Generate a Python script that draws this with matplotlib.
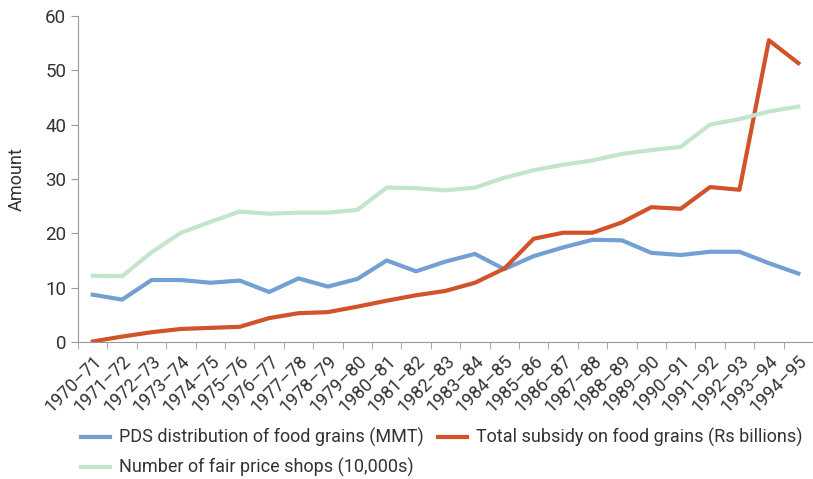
import matplotlib.pyplot as plt
from matplotlib import font_manager

years = ["1970–71", "1971–72", "1972–73", "1973–74", "1974–75", "1975–76", "1976–77",
         "1977–78", "1978–79", "1979–80", "1980–81", "1981–82", "1982–83", "1983–84",
         "1984–85", "1985–86", "1986–87", "1987–88", "1988–89", "1989–90", "1990–91",
         "1991–92", "1992–93", "1993–94", "1994–95"]
pds = [8.7, 7.8, 11.4, 11.4, 10.9, 11.3, 9.2, 11.7, 10.2, 11.6, 15.0, 13.0, 14.8, 16.2,
       13.4, 15.8, 17.4, 18.8, 18.7, 16.4, 16.0, 16.6, 16.6, 14.5, 12.6]
subsidy = [0.1, 1.0, 1.8, 2.4, 2.6, 2.8, 4.4, 5.3, 5.5, 6.5, 7.6, 8.6, 9.4, 10.9,
           13.5, 19.0, 20.1, 20.1, 22.0, 24.8, 24.5, 28.5, 28.0, 55.5, 51.3]
shops = [12.2, 12.1, 16.5, 20.1, 22.1, 24.0, 23.6, 23.8, 23.8, 24.3, 28.4, 28.3, 27.9, 28.4,
         30.2, 31.6, 32.6, 33.4, 34.6, 35.3, 35.9, 40.0, 41.0, 42.4, 43.3]

installed = {f.name for f in font_manager.fontManager.ttflist}
fam = "Liberation Sans Narrow" if "Liberation Sans Narrow" in installed else "Roboto"
plt.rcParams["font.family"] = [fam, "DejaVu Sans"]

fig = plt.figure(figsize=(8.13, 4.79), dpi=100)
ax = fig.add_axes([0.096, 0.286, 0.904, 0.681])

x = list(range(len(years)))
l1, = ax.plot(x, pds, color="#729fd4", lw=3, label="PDS distribution of food grains (MMT)")
l2, = ax.plot(x, subsidy, color="#d0532a", lw=3, label="Total subsidy on food grains (Rs billions)")
l3, = ax.plot(x, shops, color="#c3e5cd", lw=3, label="Number of fair price shops (10,000s)")

ax.set_xlim(-0.5, len(years) - 0.5)
ax.set_ylim(0, 60)
ax.set_yticks(range(0, 61, 10))
ax.set_xticks(x)
ax.set_xticklabels(years, rotation=45, ha="right", rotation_mode="anchor", fontsize=13, color="#333333")
ax.set_xticks([i - 0.5 for i in range(len(years) + 1)], minor=True)
ax.tick_params(axis="x", which="major", length=0, pad=7)
ax.tick_params(axis="x", which="minor", length=5, color="#999999")
ax.tick_params(axis="y", length=5, color="#999999", labelsize=13.5, labelcolor="#333333")
for s in ["top", "right"]:
    ax.spines[s].set_visible(False)
for s in ["left", "bottom"]:
    ax.spines[s].set_color("#999999")
ax.set_ylabel("Amount", fontsize=13, color="#333333", labelpad=14)

fig.legend(handles=[l1, l3, l2], ncol=2, loc="lower left", bbox_to_anchor=(0.08, -0.03),
           frameon=False, fontsize=13, handlelength=1.6, columnspacing=0.8,
           handletextpad=0.5, labelcolor="#333333", labelspacing=0.6)

fig.savefig("out.png", dpi=100)
